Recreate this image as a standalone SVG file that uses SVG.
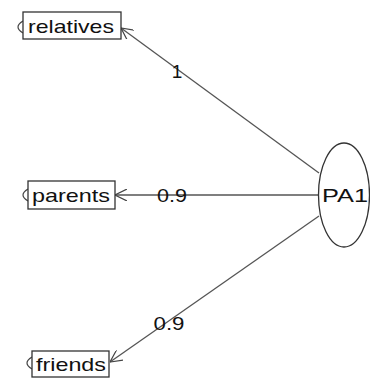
<svg xmlns="http://www.w3.org/2000/svg" width="370" height="380" viewBox="0 0 370 380">
<defs>
<marker id="arr" viewBox="0 0 12 12" refX="12" refY="6" markerWidth="12" markerHeight="12" markerUnits="userSpaceOnUse" orient="auto">
<path d="M0,0 L12,6 L0,12" fill="none" stroke="#444" stroke-width="1.2"/>
</marker>
</defs>
<style>
.box{fill:#fff;stroke:#333;stroke-width:1.3}
.lbl{font-family:"Liberation Sans",Arial,sans-serif;font-size:19px;fill:#111}
.edge{stroke:#555;stroke-width:1.3;fill:none}
.res{stroke:#444;stroke-width:1.2;fill:none}
</style>
<rect width="370" height="380" fill="#fff"/>
<g id="connectors">
<line class="edge" x1="319" y1="173" x2="121" y2="28" marker-end="url(#arr)"/>
<line class="edge" x1="319" y1="195" x2="115" y2="195" marker-end="url(#arr)"/>
<line class="edge" x1="319" y1="216" x2="110" y2="362" marker-end="url(#arr)"/>
<text class="lbl" x="177" y="78" text-anchor="middle">1</text>
<text class="lbl" x="172" y="202" text-anchor="middle" textLength="30" lengthAdjust="spacingAndGlyphs">0.9</text>
<text class="lbl" x="169" y="330" text-anchor="middle" textLength="31" lengthAdjust="spacingAndGlyphs">0.9</text>
</g>
<g id="relatives">
<path class="res" d="M23,21 Q13,27 23,33"/>
<rect class="box" x="23" y="12" width="98" height="27"/>
<text class="lbl" x="28" y="33" textLength="86" lengthAdjust="spacingAndGlyphs">relatives</text>
</g>
<g id="parents">
<path class="res" d="M28,189 Q18,195 28,201"/>
<rect class="box" x="28" y="181" width="87" height="28"/>
<text class="lbl" x="32" y="202" textLength="78" lengthAdjust="spacingAndGlyphs">parents</text>
</g>
<g id="friends">
<path class="res" d="M32,357 Q22,363 32,369"/>
<rect class="box" x="32" y="351" width="77" height="26"/>
<text class="lbl" x="36" y="371" textLength="70" lengthAdjust="spacingAndGlyphs">friends</text>
</g>
<g id="PA1">
<ellipse class="box" cx="344" cy="195" rx="25.5" ry="52"/>
<text class="lbl" x="345" y="202" text-anchor="middle" textLength="46" lengthAdjust="spacingAndGlyphs">PA1</text>
</g>
</svg>
